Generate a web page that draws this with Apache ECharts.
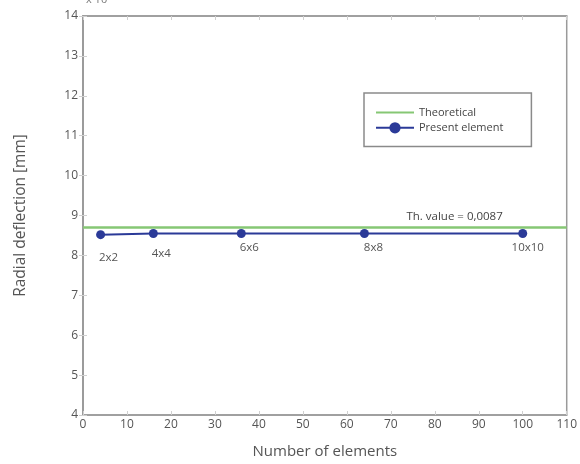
<!DOCTYPE html>
<html><head><meta charset="utf-8">
<script src="https://cdn.jsdelivr.net/npm/echarts@6/dist/echarts.min.js"></script>
<style>html,body{margin:0;padding:0;background:#fff}#c{width:580px;height:464px}</style>
</head><body><div id="c"></div>
<script>
const elemCounts = [4, 16, 36, 64, 100];
const meshLabels = ['2x2', '4x4', '6x6', '8x8', '10x10'];
const presentValues = [8.52, 8.55, 8.55, 8.55, 8.55];
const theoreticalX = [0, 110];
const theoreticalValue = 8.7;
const thLabel = 'Th. value = 0,0087';
const labelOffsets = [[8, 8], [8, 5], [8, -1], [9, -1], [5, -1]];

const chart = echarts.init(document.getElementById('c'));
const font = 'Open Sans';
const axisCommon = {
  axisLine: {show: true, lineStyle: {color: '#9a9a9a', width: 1.5}},
  axisTick: {show: true, inside: true, length: 4, lineStyle: {color: '#d0d0d0'}},
  splitLine: {show: false}
};
chart.setOption({
  animation: false,
  textStyle: {fontFamily: font},
  grid: {left: 83, right: 7, top: 16, bottom: 47, show: true, borderColor: '#9a9a9a', borderWidth: 1.5},
  legend: {
    left: 364, top: 93, orient: 'vertical',
    padding: [14, 28, 13, 11], itemGap: 4, itemWidth: 38, itemHeight: 14,
    borderColor: '#8a8a8a', borderWidth: 1.5, backgroundColor: '#fff',
    textStyle: {fontFamily: font, fontSize: 11, color: '#444'},
    data: [{name: 'Theoretical', itemStyle: {opacity: 0}}, {name: 'Present element'}]
  },
  xAxis: [
    Object.assign({type: 'value', min: 0, max: 110, interval: 10,
      name: 'Number of elements', nameLocation: 'middle', nameGap: 29,
      nameTextStyle: {fontSize: 15, color: '#555', fontFamily: font},
      axisLabel: {fontSize: 12, color: '#555', margin: 4, fontFamily: font}}, axisCommon),
    Object.assign({type: 'value', position: 'top', min: 0, max: 110, interval: 10,
      axisLabel: {show: false}}, axisCommon)
  ],
  yAxis: [
    Object.assign({type: 'value', min: 4, max: 14, interval: 1,
      name: 'Radial deflection [mm]', nameLocation: 'middle', nameGap: 54,
      nameTextStyle: {fontSize: 15.5, color: '#555', fontFamily: font},
      axisLabel: {fontSize: 12, color: '#555', margin: 5, fontFamily: font}}, axisCommon),
    Object.assign({type: 'value', position: 'right', min: 4, max: 14, interval: 1,
      axisLabel: {show: false}}, axisCommon)
  ],
  graphic: [{
    type: 'text', left: 86, top: -6,
    style: {text: 'x 10⁻³', fontSize: 11, fill: '#777', fontFamily: font}
  }],
  series: [
    {
      name: 'Theoretical', type: 'line', symbol: 'none',
      lineStyle: {color: '#86c774', width: 2.5}, itemStyle: {color: '#86c774'},
      data: theoreticalX.map(x => [x, theoreticalValue]),
      markPoint: {
        symbol: 'rect', symbolSize: 1, itemStyle: {color: 'rgba(0,0,0,0)'},
        label: {show: true, formatter: thLabel, fontSize: 11.5, color: '#444', fontFamily: font, offset: [0, 0]},
        data: [{coord: [84.5, 8.97]}]
      }
    },
    {
      name: 'Present element', type: 'line', symbol: 'circle', symbolSize: 9,
      lineStyle: {color: '#2b3a98', width: 2}, itemStyle: {color: '#2b3a98'},
      data: elemCounts.map((x, i) => ({
        value: [x, presentValues[i]],
        label: {show: true, position: 'bottom', offset: labelOffsets[i], formatter: meshLabels[i],
          fontSize: 11.5, color: '#555', fontFamily: font}
      }))
    }
  ]
});
</script></body></html>
